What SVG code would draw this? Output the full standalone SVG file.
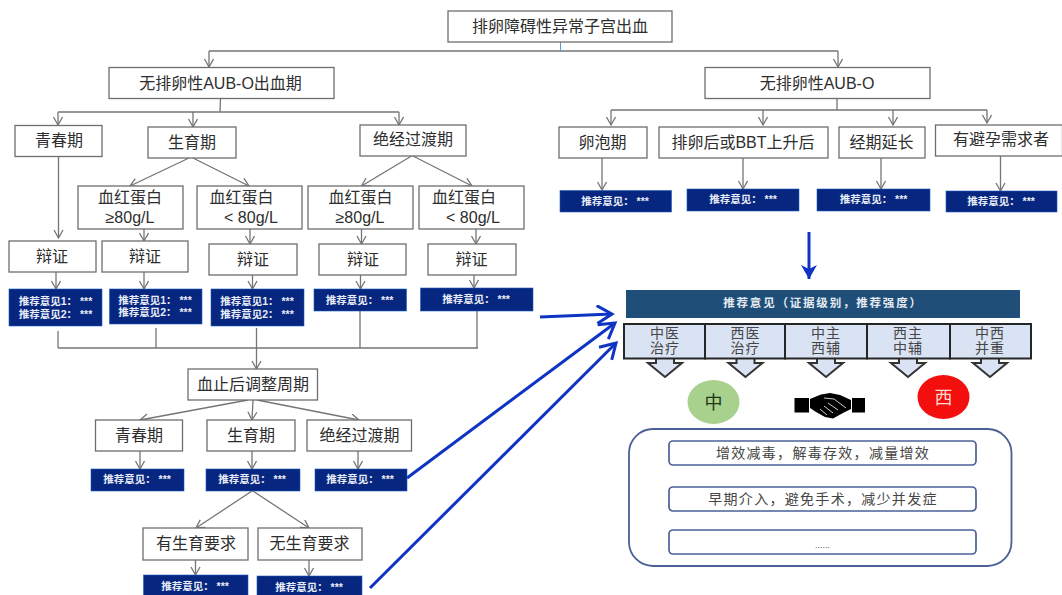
<svg xmlns="http://www.w3.org/2000/svg" width="1062" height="595" viewBox="0 0 1062 595">
<style>
text{font-family:"Liberation Sans","Noto Sans CJK SC",sans-serif;text-anchor:middle}
.b{fill:#fff;stroke:#6e6e6e;stroke-width:1.3}
.t{font-size:16px;fill:#2e2e2e}
.r{fill:#06267f;stroke:#1f5fc0;stroke-width:.6}
.w{font-size:10.5px;font-weight:700;fill:#e8ecf6}
.c{fill:none;stroke:#757575;stroke-width:1.3}
.a{marker-end:url(#open)}
.u{fill:none;stroke:#0f34c4;stroke-width:3;marker-end:url(#big)}
.cell{fill:#dae3f3;stroke:#262626;stroke-width:2}
.ct{font-size:14px;letter-spacing:1px;fill:#454545}
.dn{fill:#dae3f3;stroke:none}
.dl{fill:none;stroke:#333;stroke-width:2}
.in{fill:#fff;stroke:#4a6096;stroke-width:1.7}
.it{font-size:14px;letter-spacing:1.3px;fill:#454545}
</style>
<defs>
<marker id="open" markerUnits="userSpaceOnUse" markerWidth="12" markerHeight="12" refX="9" refY="5" orient="auto"><path d="M1 .5L9 5L1 9.500" fill="none" stroke="#757575" stroke-width="1.3"/></marker>
<marker id="big" markerUnits="userSpaceOnUse" markerWidth="20" markerHeight="22" refX="16" refY="10" orient="auto"><path d="M1 1L16 10L1 19" fill="none" stroke="#0f34c4" stroke-width="3"/></marker>
<marker id="solid" markerUnits="userSpaceOnUse" markerWidth="18" markerHeight="18" refX="14" refY="8" orient="auto"><path d="M0 0L14 8L0 16L4 8Z" fill="#0f34c4"/></marker>
</defs>
<rect width="1062" height="595" fill="#fff"/>
<g id="connectors">
<path class="c" d="M209 51H838"/><path class="c a" d="M209 51V67"/><path class="c a" d="M838 51V67"/>
<path d="M560.500 42V52" fill="none" stroke="#5b9bd5" stroke-width="1"/>
<path class="c" d="M220.500 98.500L220 112M58 112H399"/><path class="c a" d="M58 112V125"/><path class="c a" d="M193 112V127"/><path class="c a" d="M399 112V125"/>
<path class="c a" d="M189 158L130 186"/><path class="c a" d="M193 158L249 186"/><path class="c a" d="M411.500 156L361.500 186"/><path class="c a" d="M413 156L472 186"/>
<path class="c a" d="M58.500 156V238"/>
<path class="c a" d="M144 229V241"/><path class="c a" d="M250 229V244"/><path class="c a" d="M361.500 229V244"/><path class="c a" d="M476 229V244"/>
<path class="c a" d="M56 272V289"/><path class="c a" d="M144 272V289"/><path class="c a" d="M252.500 275V289"/><path class="c a" d="M360.500 275V289"/><path class="c a" d="M474 275V288"/>
<path class="c" d="M58 331V348M156 328V348M360 311V348M477 311V348M58 348H478"/><path class="c a" d="M256.500 328V369"/>
<path class="c a" d="M248 400L140 420"/><path class="c a" d="M253 400L252 420"/><path class="c a" d="M257 400L359 420"/>
<path class="c a" d="M140 451V469"/><path class="c a" d="M252 451V469"/><path class="c a" d="M358 451V469"/>
<path class="c a" d="M252 491L196 528"/><path class="c a" d="M253 491L309 528"/>
<path class="c a" d="M195.500 560V575"/><path class="c a" d="M309 560V576"/>
<path class="c" d="M837 98.500V110M611 110H987"/><path class="c a" d="M611 110V125"/><path class="c a" d="M763 110V125"/><path class="c a" d="M893 110V125"/><path class="c a" d="M987 110V123"/>
<path class="c a" d="M602 158V190"/><path class="c a" d="M743 158V189"/><path class="c a" d="M881 158V189"/><path class="c a" d="M1000.500 156V191"/>
<path d="M809 232V279" fill="none" stroke="#0f34c4" stroke-width="3" marker-end="url(#solid)"/>
<path class="u" d="M540 317L612 314"/>
<path class="u" d="M407 478L615 323"/>
<path class="u" d="M370 588L616 343"/>
</g>
<g id="n-root"><rect class="b" x="448" y="11" width="224" height="31"/><text class="t" x="560" y="32">排卵障碍性异常子宫出血</text></g>
<g id="n-left"><rect class="b" x="109" y="67.500" width="225" height="31"/><text class="t" x="220.500" y="88.500">无排卵性AUB-O出血期</text></g>
<g id="n-right"><rect class="b" x="705" y="67.500" width="225" height="31"/><text class="t" x="817" y="88.500">无排卵性AUB-O</text></g>
<g id="n-qc"><rect class="b" x="15" y="125.500" width="87" height="31"/><text class="t" x="59" y="146">青春期</text></g>
<g id="n-sy"><rect class="b" x="148" y="127" width="88" height="31"/><text class="t" x="192" y="148">生育期</text></g>
<g id="n-jj"><rect class="b" x="360" y="125" width="106" height="31"/><text class="t" x="413" y="145">绝经过渡期</text></g>
<g id="n-hb1"><rect class="b" x="78" y="186" width="105" height="43"/><text class="t" x="130" y="203">血红蛋白</text><text class="t" x="130" y="223">≥80g/L</text></g>
<g id="n-hb2"><rect class="b" x="197" y="186" width="105" height="43"/><text class="t" x="241.500" y="203">血红蛋白</text><text class="t" x="251" y="223">&lt; 80g/L</text></g>
<g id="n-hb3"><rect class="b" x="308" y="186" width="105" height="43"/><text class="t" x="360.500" y="203">血红蛋白</text><text class="t" x="360" y="223">≥80g/L</text></g>
<g id="n-hb4"><rect class="b" x="419" y="186" width="105" height="43"/><text class="t" x="464" y="203">血红蛋白</text><text class="t" x="473" y="223">&lt; 80g/L</text></g>
<g id="n-bz1"><rect class="b" x="9" y="241" width="87" height="31"/><text class="t" x="52" y="262">辩证</text></g>
<g id="n-bz2"><rect class="b" x="102" y="241" width="86" height="31"/><text class="t" x="145" y="262">辩证</text></g>
<g id="n-bz3"><rect class="b" x="209" y="244" width="88" height="31"/><text class="t" x="253" y="264.500">辩证</text></g>
<g id="n-bz4"><rect class="b" x="319" y="244" width="87" height="31"/><text class="t" x="363" y="264.500">辩证</text></g>
<g id="n-bz5"><rect class="b" x="428" y="244" width="88" height="31"/><text class="t" x="471.500" y="264.500">辩证</text></g>
<g id="n-r1"><rect class="r" x="9" y="289" width="93" height="37"/><text class="w" x="55.500" y="304.500">推荐意见1： ***</text><text class="w" x="55.500" y="318">推荐意见2： ***</text></g>
<g id="n-r2"><rect class="r" x="109.500" y="289" width="92.500" height="35"/><text class="w" x="155" y="303.500">推荐意见1： ***</text><text class="w" x="155" y="316">推荐意见2： ***</text></g>
<g id="n-r3"><rect class="r" x="211" y="289" width="93" height="37"/><text class="w" x="257" y="304.500">推荐意见1： ***</text><text class="w" x="257" y="318">推荐意见2： ***</text></g>
<g id="n-r4"><rect class="r" x="314" y="289" width="92.500" height="22"/><text class="w" x="359.500" y="303.500">推荐意见： ***</text></g>
<g id="n-r5"><rect class="r" x="420.500" y="288" width="112.500" height="23"/><text class="w" x="476" y="302.500">推荐意见： ***</text></g>
<g id="n-stop"><rect class="b" x="188" y="369" width="129.500" height="31"/><text class="t" x="253" y="389.500">血止后调整周期</text></g>
<g id="n-qc2"><rect class="b" x="95.500" y="420" width="87" height="31"/><text class="t" x="139" y="441">青春期</text></g>
<g id="n-sy2"><rect class="b" x="207" y="420" width="88" height="31"/><text class="t" x="251" y="441">生育期</text></g>
<g id="n-jj2"><rect class="b" x="307" y="420" width="104.500" height="31"/><text class="t" x="359.500" y="441">绝经过渡期</text></g>
<g id="n-r6"><rect class="r" x="91" y="469" width="93" height="22"/><text class="w" x="137" y="483">推荐意见： ***</text></g>
<g id="n-r7"><rect class="r" x="206" y="469" width="94" height="22"/><text class="w" x="252" y="483">推荐意见： ***</text></g>
<g id="n-r8"><rect class="r" x="315" y="469" width="92" height="22"/><text class="w" x="360" y="483">推荐意见： ***</text></g>
<g id="n-yes"><rect class="b" x="143" y="528" width="105" height="32"/><text class="t" x="196" y="549">有生育要求</text></g>
<g id="n-no"><rect class="b" x="258" y="528" width="104" height="32"/><text class="t" x="309.500" y="549">无生育要求</text></g>
<g id="n-r9"><rect class="r" x="143.500" y="575" width="104.500" height="24"/><text class="w" x="195" y="589.500">推荐意见： ***</text></g>
<g id="n-r10"><rect class="r" x="257" y="576" width="105" height="23"/><text class="w" x="309" y="590.500">推荐意见： ***</text></g>
<g id="n-lp"><rect class="b" x="559" y="127" width="88" height="31"/><text class="t" x="602.500" y="148">卵泡期</text></g>
<g id="n-pl"><rect class="b" x="659" y="127" width="169" height="31"/><text class="t" x="743" y="148">排卵后或BBT上升后</text></g>
<g id="n-jq"><rect class="b" x="839" y="127" width="86" height="31"/><text class="t" x="881.500" y="148">经期延长</text></g>
<g id="n-by"><rect class="b" x="935.500" y="125" width="127" height="31"/><text class="t" x="1001" y="145">有避孕需求者</text></g>
<g id="n-r11"><rect class="r" x="560" y="190.500" width="111.500" height="21.500"/><text class="w" x="615" y="204.500">推荐意见： ***</text></g>
<g id="n-r12"><rect class="r" x="687" y="189" width="112" height="22"/><text class="w" x="743" y="203">推荐意见： ***</text></g>
<g id="n-r13"><rect class="r" x="817" y="189" width="113" height="22"/><text class="w" x="873.500" y="203">推荐意见： ***</text></g>
<g id="n-r14"><rect class="r" x="946" y="191" width="111" height="21"/><text class="w" x="1001" y="205">推荐意见： ***</text></g>
<g id="n-head"><rect x="626" y="290" width="394" height="28" fill="#1f4e79"/><text x="823" y="307" font-size="11.500" font-weight="700" letter-spacing="1.800" fill="#e4eaf0">推荐意见（证据级别，推荐强度）</text></g>
<g id="n-cell1"><path class="dn" d="M656 358V364H648L665 377L682 364H674V358Z"/><path class="dl" d="M656 359V363H648L665 377L682 363H674V359"/><rect class="cell" x="624" y="324" width="81" height="34.500"/><text class="ct" x="665" y="338">中医</text><text class="ct" x="665" y="353">治疗</text></g>
<g id="n-cell2"><path class="dn" d="M736.500 358V364H728.500L745.500 377L762.500 364H754.500V358Z"/><path class="dl" d="M736.500 359V363H728.500L745.500 377L762.500 363H754.500V359"/><rect class="cell" x="705" y="324" width="80" height="34.500"/><text class="ct" x="745.500" y="338">西医</text><text class="ct" x="745.500" y="353">治疗</text></g>
<g id="n-cell3"><path class="dn" d="M817 358V364H809L826 377L843 364H835V358Z"/><path class="dl" d="M817 359V363H809L826 377L843 363H835V359"/><rect class="cell" x="785" y="324" width="82" height="34.500"/><text class="ct" x="826" y="338">中主</text><text class="ct" x="826" y="353">西辅</text></g>
<g id="n-cell4"><path class="dn" d="M899 358V364H891L908 377L925 364H917V358Z"/><path class="dl" d="M899 359V363H891L908 377L925 363H917V359"/><rect class="cell" x="867" y="324" width="83" height="34.500"/><text class="ct" x="908" y="338">西主</text><text class="ct" x="908" y="353">中辅</text></g>
<g id="n-cell5"><path class="dn" d="M981 358V364H973L990 377L1007 364H999V358Z"/><path class="dl" d="M981 359V363H973L990 377L1007 363H999V359"/><rect class="cell" x="950" y="324" width="81" height="34.500"/><text class="ct" x="990" y="338">中西</text><text class="ct" x="990" y="353">并重</text></g>
<g id="n-zhong"><ellipse cx="713.500" cy="402" rx="26" ry="22" fill="#a9d18e"/><text x="713.500" y="408.500" font-size="18" fill="#1c3a14">中</text></g>
<g id="n-xi"><ellipse cx="943.500" cy="397" rx="26" ry="22" fill="#f40f0f"/><text x="943.500" y="403.500" font-size="18" fill="#ffd9d0">西</text></g>
<g id="n-hands">
<rect x="794.500" y="398" width="14.500" height="14.500" fill="#000"/><rect x="852" y="398" width="13" height="14.500" fill="#000"/>
<path d="M810 399L821 394.500L830 393L840 395L851 400V409L843 413L833 418.500L825 417L816 412L810 408Z" fill="#000"/>
<path d="M820 409L827 415M824 406L833 413M828 403L838 410M824 398L834 399L846 408" fill="none" stroke="#fff" stroke-width=".8"/>
</g>
<g id="n-panel">
<rect x="629" y="429" width="382.500" height="137" rx="24" fill="#fff" stroke="#4a6096" stroke-width="1.800"/>
<rect class="in" x="669" y="441" width="307" height="24" rx="4"/><text class="it" x="823" y="458">增效减毒，解毒存效，减量增效</text>
<rect class="in" x="669" y="487" width="307" height="24" rx="4"/><text class="it" x="823" y="504">早期介入，避免手术，减少并发症</text>
<rect class="in" x="669" y="530" width="307" height="24" rx="4"/><text x="822.500" y="548" font-size="9" fill="#505050">......</text>
</g>
</svg>
